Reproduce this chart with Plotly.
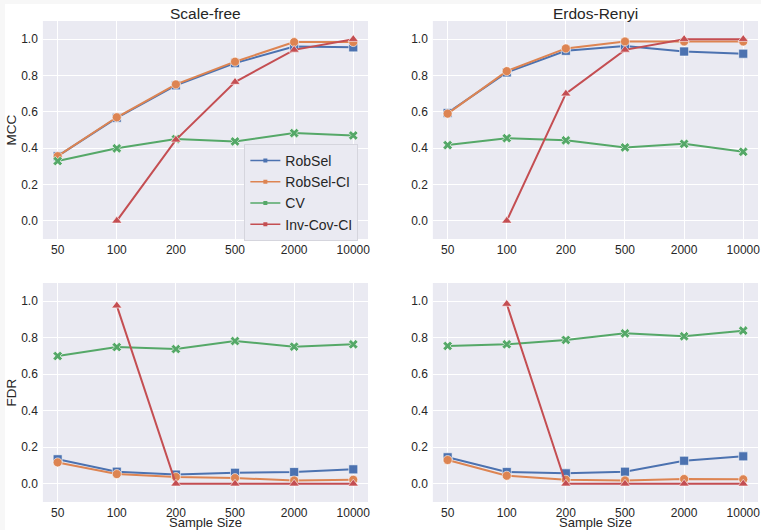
import plotly.graph_objects as go

# Sample sizes (categorical x axis)
sample_sizes = ["50", "100", "200", "500", "2000", "10000"]

# MCC, scale-free graphs
sf_mcc_robsel = [0.356, 0.567, 0.746, 0.868, 0.960, 0.955]
sf_mcc_robsel_ci = [0.356, 0.570, 0.751, 0.876, 0.984, 0.984]
sf_mcc_cv = [0.329, 0.399, 0.450, 0.437, 0.483, 0.470]
sf_mcc_invcov = [None, 0.0, 0.446, 0.764, 0.941, 1.0]

# MCC, Erdos-Renyi graphs
er_mcc_robsel = [0.594, 0.817, 0.936, 0.963, 0.932, 0.920]
er_mcc_robsel_ci = [0.590, 0.824, 0.949, 0.987, 0.987, 0.987]
er_mcc_cv = [0.417, 0.455, 0.443, 0.404, 0.424, 0.380]
er_mcc_invcov = [None, 0.0, 0.700, 0.941, 1.0, 1.0]

# FDR, scale-free graphs
sf_fdr_robsel = [0.134, 0.066, 0.050, 0.060, 0.064, 0.079]
sf_fdr_robsel_ci = [0.117, 0.053, 0.037, 0.031, 0.018, 0.022]
sf_fdr_cv = [0.700, 0.749, 0.738, 0.782, 0.751, 0.764]
sf_fdr_invcov = [None, 0.976, 0.0, 0.0, 0.0, 0.0]

# FDR, Erdos-Renyi graphs
er_fdr_robsel = [0.145, 0.064, 0.057, 0.066, 0.126, 0.150]
er_fdr_robsel_ci = [0.130, 0.044, 0.022, 0.018, 0.026, 0.024]
er_fdr_cv = [0.755, 0.764, 0.788, 0.824, 0.808, 0.839]
er_fdr_invcov = [None, 0.985, 0.0, 0.0, 0.0, 0.0]

methods = ["RobSel", "RobSel-CI", "CV", "Inv-Cov-CI"]
colors = ["#4C72B0", "#DD8452", "#55A868", "#C44E52"]
symbols = ["square", "circle", "x", "triangle-up"]
sizes = [9, 9, 8.5, 9]

panels = [
    ("x", "y", [sf_mcc_robsel, sf_mcc_robsel_ci, sf_mcc_cv, sf_mcc_invcov]),
    ("x2", "y2", [er_mcc_robsel, er_mcc_robsel_ci, er_mcc_cv, er_mcc_invcov]),
    ("x3", "y3", [sf_fdr_robsel, sf_fdr_robsel_ci, sf_fdr_cv, sf_fdr_invcov]),
    ("x4", "y4", [er_fdr_robsel, er_fdr_robsel_ci, er_fdr_cv, er_fdr_invcov]),
]

W, H = 763, 530
TEXT = "#262626"
FONT = "Liberation Sans, Arial, sans-serif"

fig = go.Figure()

for xa, ya, series in panels:
    for name, vals, col, sym, sz in zip(methods, series, colors, symbols, sizes):
        fig.add_trace(go.Scatter(
            x=sample_sizes, y=vals, xaxis=xa, yaxis=ya,
            mode="lines+markers", name=name, showlegend=False,
            line=dict(color=col, width=2),
            marker=dict(symbol=sym, size=sz, color=col,
                        line=dict(color="rgba(255,255,255,0.6)", width=1)),
            connectgaps=False,
        ))

# Legend entries with small markers
for name, col in zip(methods, colors):
    fig.add_trace(go.Scatter(
        x=[None], y=[None], xaxis="x", yaxis="y",
        mode="lines+markers", name=name, showlegend=True,
        line=dict(color=col, width=1.5),
        marker=dict(symbol="square", size=4, color=col),
    ))


def px_x(p):
    return p / W


def px_y(p):
    return 1 - p / H


left_dom = [px_x(43), px_x(369)]
right_dom = [px_x(434), px_x(760)]
top_dom = [px_y(239), px_y(21)]
bot_dom = [px_y(502), px_y(283)]

xcommon = dict(
    type="category", range=[-0.25, 5.25], showgrid=True, gridcolor="white",
    gridwidth=1, zeroline=False, showline=False, ticks="",
    tickfont=dict(size=12, color=TEXT, family=FONT), ticklabelstandoff=2,
)
ycommon = dict(
    range=[-0.1, 1.1], tickvals=[0, 0.2, 0.4, 0.6, 0.8, 1.0],
    ticktext=["0.0", "0.2", "0.4", "0.6", "0.8", "1.0"],
    showgrid=True, gridcolor="white", gridwidth=1, zeroline=False,
    showline=False, ticks="", tickfont=dict(size=12, color=TEXT, family=FONT),
    ticklabelstandoff=4,
)
title_font = dict(size=13.5, color=TEXT, family=FONT)


def panel_title(text, dom):
    return dict(text=text, x=(dom[0] + dom[1]) / 2, y=top_dom[1],
                xref="paper", yref="paper", xanchor="center", yanchor="bottom",
                showarrow=False, font=dict(size=15.5, color=TEXT, family=FONT),
                yshift=-3)


def xlabel(text, dom):
    return dict(text=text, x=(dom[0] + dom[1]) / 2, y=0,
                xref="paper", yref="paper", xanchor="center", yanchor="bottom",
                showarrow=False, font=dict(size=13, color=TEXT, family=FONT),
                borderpad=0, yshift=-1)


fig.update_layout(
    width=W, height=H, autosize=False,
    margin=dict(l=0, r=0, t=0, b=0),
    paper_bgcolor="white", plot_bgcolor="#EAEAF2",
    font=dict(family=FONT, color=TEXT),
    xaxis=dict(domain=left_dom, anchor="y", **xcommon),
    yaxis=dict(domain=top_dom, anchor="x",
               title=dict(text="MCC", font=title_font, standoff=1), **ycommon),
    xaxis2=dict(domain=right_dom, anchor="y2", **xcommon),
    yaxis2=dict(domain=top_dom, anchor="x2", **ycommon),
    xaxis3=dict(domain=left_dom, anchor="y3", **xcommon),
    yaxis3=dict(domain=bot_dom, anchor="x3",
                title=dict(text="FDR", font=title_font, standoff=1), **ycommon),
    xaxis4=dict(domain=right_dom, anchor="y4", **xcommon),
    yaxis4=dict(domain=bot_dom, anchor="x4", **ycommon),
    legend=dict(
        x=px_x(245), y=px_y(144), xanchor="left", yanchor="top",
        bgcolor="#EAEAF2", bordercolor="#D5D5DD", borderwidth=1,
        font=dict(size=14, color=TEXT, family=FONT),
        itemwidth=30, tracegroupgap=0,
    ),
    annotations=[
        panel_title("Scale-free", left_dom),
        panel_title("Erdos-Renyi", right_dom),
        xlabel("Sample Size", left_dom),
        xlabel("Sample Size", right_dom),
    ],
    shapes=[
        dict(type="rect", xref="paper", yref="paper", x0=0, x1=px_x(5),
             y0=0, y1=1, fillcolor="#F7F7F7", line=dict(width=0), layer="below"),
        dict(type="rect", xref="paper", yref="paper", x0=0, x1=1,
             y0=px_y(4), y1=1, fillcolor="#F7F7F7", line=dict(width=0), layer="below"),
    ],
)

fig.write_html("out.html")
